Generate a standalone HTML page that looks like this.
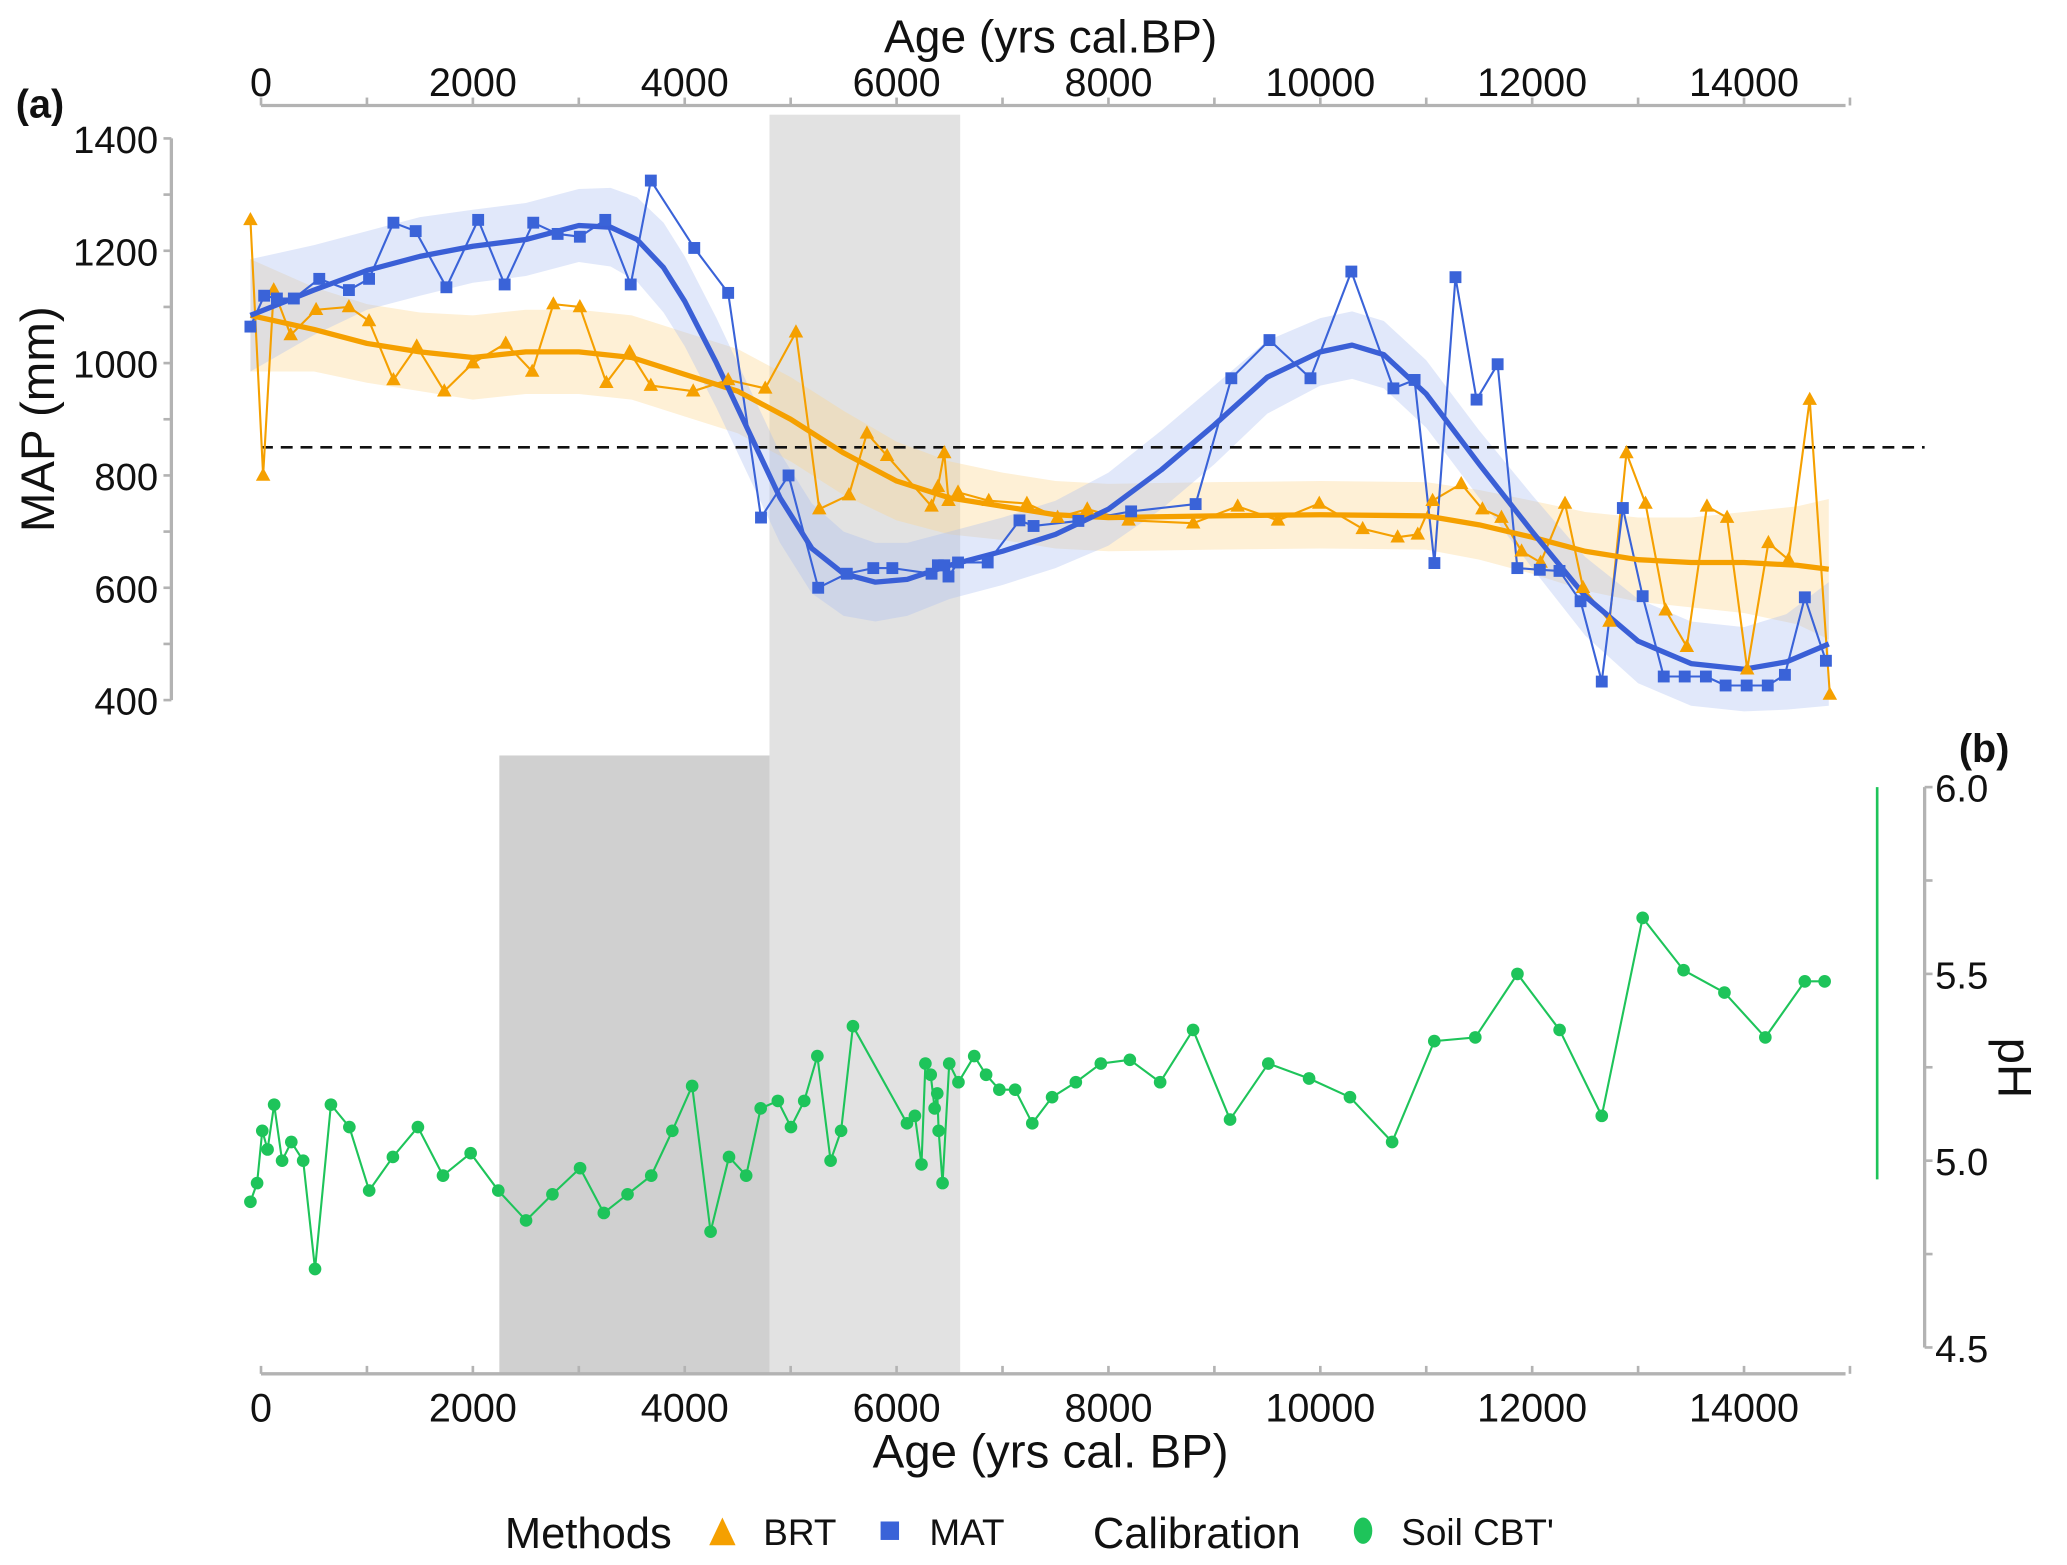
<!DOCTYPE html>
<html><head><meta charset="utf-8"><style>
html,body{margin:0;padding:0;background:#fff;}
svg{display:block;font-family:"Liberation Sans",Arial,sans-serif;}
</style></head><body>
<svg id="chart" width="2067" height="1565" viewBox="0 0 1568 1187" preserveAspectRatio="none" xmlns="http://www.w3.org/2000/svg">
<g id="bands"></g><g id="ribbons"></g><g id="axes"></g><g id="series"></g><g id="labels"></g>
</svg>
<script>
const brtAge=[-100,20,120,280,520,830,1020,1250,1470,1730,2000,2310,2560,2760,3010,3260,3480,3680,4080,4410,4760,5050,5270,5550,5720,5910,6330,6390,6450,6490,6580,6870,7230,7520,7800,8190,8800,9220,9600,9990,10400,10730,10920,11060,11330,11530,11710,11900,12080,12310,12480,12730,12890,13070,13260,13460,13650,13840,14030,14230,14420,14620,14810];
const brtMap=[1255,800,1130,1050,1095,1100,1075,970,1030,950,1000,1035,985,1105,1100,965,1020,960,950,970,955,1055,740,765,875,835,745,780,840,755,770,755,750,725,740,720,715,745,720,750,705,690,695,755,785,740,725,665,645,750,600,540,840,750,560,495,745,725,455,680,650,935,410];
const matAge=[-100,30,150,310,550,830,1020,1250,1460,1750,2050,2300,2570,2800,3010,3250,3490,3680,4090,4410,4720,4980,5260,5530,5780,5960,6330,6390,6450,6490,6580,6860,7160,7293,7716,8214,8823,9160,9520,9907,10293,10690,10890,11077,11276,11475,11674,11860,12072,12258,12457,12657,12856,13043,13242,13440,13640,13826,14025,14224,14386,14574,14773];
const matMap=[1065,1120,1115,1115,1150,1130,1150,1250,1235,1135,1255,1140,1250,1230,1225,1255,1140,1325,1205,1125,725,800,600,625,635,635,625,640,640,620,645,645,720,710,719,736,749,973,1041,973,1163,955,970,644,1153,935,998,635,632,630,576,433,742,585,442,442,442,426,426,426,445,583,470];
const matFitAge=[-100,500,1000,1500,2000,2500,3000,3300,3550,3800,4000,4300,4600,4900,5200,5500,5800,6100,6500,7000,7500,8000,8500,9000,9500,10000,10300,10600,11000,11500,12000,12500,13000,13500,14000,14400,14800];
const matFit=[1085,1130,1165,1190,1208,1220,1245,1242,1220,1170,1110,1000,880,760,670,625,610,615,640,665,695,740,810,890,975,1020,1032,1015,945,820,700,585,505,465,455,468,500];
const matSe=[100,80,70,70,65,65,65,70,75,80,80,80,80,80,80,75,70,65,60,60,60,65,70,70,65,60,60,60,60,60,65,70,75,75,75,85,110];
const brtFitAge=[-100,500,1000,1500,2000,2500,3000,3500,4000,4500,5000,5500,6000,6500,7000,7500,8000,9000,10000,11000,11500,12000,12500,13000,13500,14000,14500,14800];
const brtFit=[1085,1060,1035,1020,1010,1020,1020,1010,980,950,900,840,790,760,745,730,725,728,730,728,712,690,665,650,645,645,640,633];
const brtSe=[100,75,70,70,75,75,75,75,75,75,75,75,70,65,60,60,60,60,60,60,62,65,70,75,80,90,105,125];
const phAge=[-100,-37,12,62,124,199,286,398,510,660,834,1021,1245,1481,1718,1979,2240,2502,2751,3012,3236,3460,3684,3883,4070,4244,4418,4580,4717,4879,5003,5128,5252,5377,5476,5588,6098,6173,6235,6272,6322,6359,6384,6397,6434,6497,6584,6733,6845,6970,7119,7281,7468,7692,7928,8202,8488,8799,9148,9509,9894,10280,10678,11076,11463,11861,12259,12657,13043,13429,13815,14201,14574,14761];
const phVal=[4.89,4.94,5.08,5.03,5.15,5.0,5.05,5.0,4.71,5.15,5.09,4.92,5.01,5.09,4.96,5.02,4.92,4.84,4.91,4.98,4.86,4.91,4.96,5.08,5.2,4.81,5.01,4.96,5.14,5.16,5.09,5.16,5.28,5.0,5.08,5.36,5.1,5.12,4.99,5.26,5.23,5.14,5.18,5.08,4.94,5.26,5.21,5.28,5.23,5.19,5.19,5.1,5.17,5.21,5.26,5.27,5.21,5.35,5.11,5.26,5.22,5.17,5.05,5.32,5.33,5.5,5.35,5.12,5.65,5.51,5.45,5.33,5.48,5.48];
const ageTicks=[0,2000,4000,6000,8000,10000,12000,14000];
const mapTicks=[400,600,800,1000,1200,1400];
const phTicks=[4.5,5.0,5.5,6.0];
const refMap=850;

const NS='http://www.w3.org/2000/svg';
const X=a=>198+a*(1125/14000);
const Ym=v=>531-(v-400)*0.426;
const Yp=v=>1022-(v-4.5)*(425/1.5);
function mk(parent,tag,attrs){const e=document.createElementNS(NS,tag);for(const k in attrs)e.setAttribute(k,attrs[k]);document.getElementById(parent).appendChild(e);return e;}
function txt(parent,x,y,s,size,extra){const t=mk(parent,'text',Object.assign({x:x,y:y,'font-size':size,fill:'#111'},extra||{}));t.textContent=s;return t;}

let b=mk('bands','rect',{x:X(4800),y:87,width:X(6600)-X(4800),height:1042-87,fill:'#e2e2e2'});


b=mk('bands','rect',{x:X(2250),y:573,width:X(4800)-X(2250),height:1042-573,fill:'#d0d0d0'});



function ribbon(ages,fit,se,color,name){
  let up=ages.map((a,i)=>X(a)+','+Ym(fit[i]+se[i]));
  let dn=ages.map((a,i)=>X(a)+','+Ym(fit[i]-se[i])).reverse();
  const p=mk('ribbons','polygon',{points:up.concat(dn).join(' '),fill:color,'fill-opacity':0.35});
  
  
}
ribbon(brtFitAge,brtFit,brtSe,'#fcd58a','brt-confidence-ribbon');
ribbon(matFitAge,matFit,matSe,'#a9bdf2','mat-confidence-ribbon');

const ax='#b3b3b3';
let l=mk('axes','line',{x1:X(0),x2:1400,y1:80,y2:80,stroke:ax,'stroke-width':2.5});


l=mk('axes','line',{x1:X(0),x2:1400,y1:1042,y2:1042,stroke:ax,'stroke-width':2.5});


l=mk('axes','line',{x1:130,x2:130,y1:Ym(1400),y2:Ym(400),stroke:ax,'stroke-width':2.5});


l=mk('axes','line',{x1:1460,x2:1460,y1:Yp(6),y2:Yp(4.5),stroke:ax,'stroke-width':2.5});


for(let a=0;a<=15000;a+=1000){
  mk('axes','line',{x1:X(a),x2:X(a),y1:80,y2:74,stroke:ax,'stroke-width':2});
  mk('axes','line',{x1:X(a),x2:X(a),y1:1042,y2:1036,stroke:ax,'stroke-width':2});
}
for(let v=400;v<=1400;v+=100) mk('axes','line',{x1:130,x2:124,y1:Ym(v),y2:Ym(v),stroke:ax,'stroke-width':2});
for(let v=4.5;v<=6.001;v+=0.25) mk('axes','line',{x1:1460,x2:1466,y1:Yp(v),y2:Yp(v),stroke:ax,'stroke-width':2});
ageTicks.forEach(a=>{
  let t=txt('labels',X(a),73,String(a),30,{'text-anchor':'middle'});
  
  
  t=txt('labels',X(a),1078,String(a),30,{'text-anchor':'middle'});
  
  
});
mapTicks.forEach(v=>{
  const t=txt('labels',120,Ym(v)+11,String(v),29,{'text-anchor':'end'});
  
  
});
phTicks.forEach(v=>{
  const t=txt('labels',1468,Yp(v)+11,v.toFixed(1),29,{'text-anchor':'start'});
  
  
});

l=mk('series','line',{x1:X(0),x2:1460,y1:Ym(refMap),y2:Ym(refMap),stroke:'#111','stroke-width':2,'stroke-dasharray':'9,6'});


l=mk('series','line',{x1:1424,x2:1424,y1:Yp(6),y2:Yp(4.95),stroke:'#1ec45a','stroke-width':2});



function poly(ages,vals,yf,color,w,name){
  const p=mk('series','polyline',{points:ages.map((a,i)=>X(a)+','+yf(vals[i])).join(' '),fill:'none',stroke:color,'stroke-width':w,'stroke-linejoin':'round'});
  
  
}
poly(brtAge,brtMap,Ym,'#f5a000',1.6,'brt-line');
poly(matAge,matMap,Ym,'#3a63d8',1.6,'mat-line');
poly(brtFitAge,brtFit,Ym,'#f5a000',4,'brt-smooth-line');
poly(matFitAge,matFit,Ym,'#3a5fd6',4,'mat-smooth-line');
poly(phAge,phVal,Yp,'#1ec45a',1.6,'ph-line');

brtAge.forEach((a,i)=>{
  const x=X(a),y=Ym(brtMap[i]);
  const p=mk('series','polygon',{points:`${x},${y-6} ${x-5.5},${y+4} ${x+5.5},${y+4}`,fill:'#f5a000'});
  
  
});
matAge.forEach((a,i)=>{
  const p=mk('series','rect',{x:X(a)-4.5,y:Ym(matMap[i])-4.5,width:9,height:9,fill:'#3a63d8'});
  
  
});
phAge.forEach((a,i)=>{
  const p=mk('series','circle',{cx:X(a),cy:Yp(phVal[i]),r:4.8,fill:'#1ec45a'});
  
  
});

let t=txt('labels',797,40,'Age (yrs cal.BP)',35,{'text-anchor':'middle'});


t=txt('labels',797,1113,'Age (yrs cal. BP)',36,{'text-anchor':'middle'});


t=txt('labels',0,0,'MAP (mm)',36,{'text-anchor':'middle',transform:'translate(41,318) rotate(-90)'});


t=txt('labels',0,0,'pH',36,{'text-anchor':'middle',transform:'translate(1516,810) rotate(90)'});


t=txt('labels',12,89,'(a)',30,{'font-weight':'bold'});


t=txt('labels',1486,578,'(b)',30,{'font-weight':'bold'});



t=txt('labels',383,1174,'Methods',33);


let m=mk('labels','polygon',{points:'548,1151 538,1172 558,1172',fill:'#f5a000'});


t=txt('labels',579,1172,'BRT',28);


m=mk('labels','rect',{x:668,y:1154,width:14,height:14,fill:'#3a63d8'});


t=txt('labels',705,1172,'MAT',28);


t=txt('labels',829,1174,'Calibration',33);


m=mk('labels','ellipse',{cx:1034,cy:1161,rx:7,ry:10,fill:'#1ec45a'});


t=txt('labels',1063,1172,"Soil CBT'",28);


</script>
</body></html>
